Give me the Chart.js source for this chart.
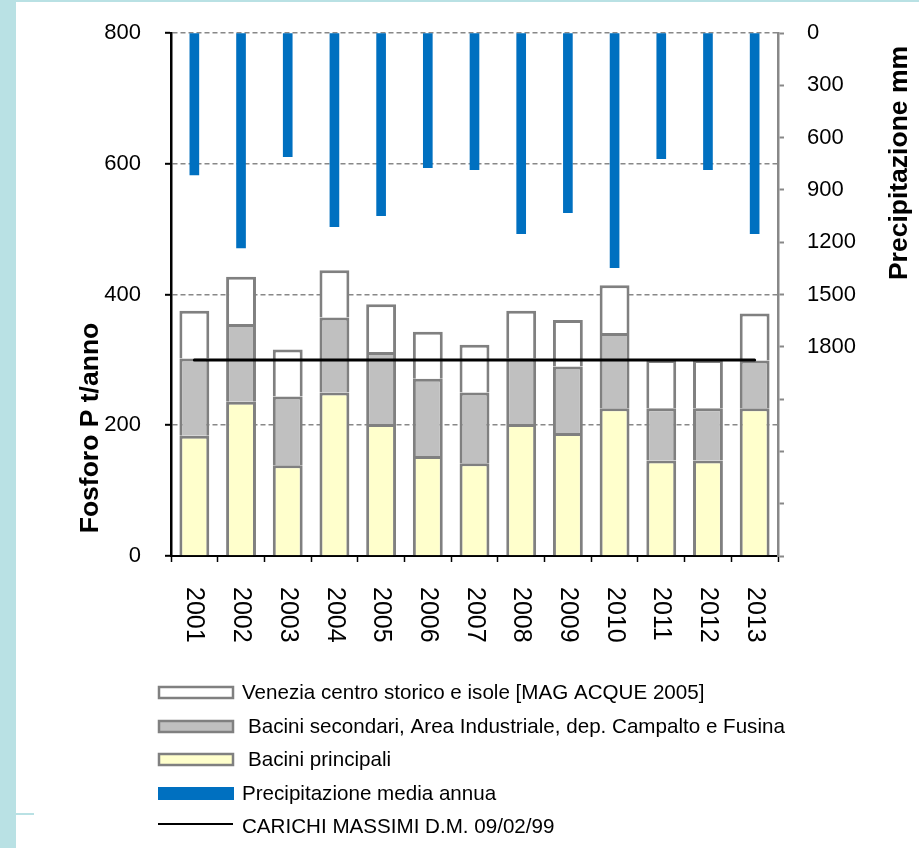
<!DOCTYPE html>
<html>
<head>
<meta charset="utf-8">
<script src="https://cdn.jsdelivr.net/npm/chart.js@4.4.0/dist/chart.umd.min.js"></script>
<style>
  html, body { margin: 0; padding: 0; background: #fff; }
  #wrap { position: relative; width: 919px; height: 848px; overflow: hidden; background: #fff; }
  .band { position: absolute; background: #b9e1e4; }
  canvas { position: absolute; left: 0; top: 0; }
</style>
</head>
<body>
<div id="wrap">
  <div class="band" style="left:0;top:0;width:16px;height:848px"></div>
  <div class="band" style="left:0;top:0;width:919px;height:2px"></div>
  <div class="band" style="left:16px;top:813px;width:18px;height:2px"></div>
  <canvas id="c" width="919" height="848"></canvas>
</div>
<script>
// Anni
const years = ['2001', '2002', '2003', '2004', '2005', '2006', '2007',
               '2008', '2009', '2010', '2011', '2012', '2013'];

// Carichi di fosforo (t/anno) per fonte
const baciniPrincipali = [184, 236, 139, 250, 202, 153, 142, 202, 188, 226, 146, 146, 226];
const baciniSecondari  = [118, 119, 105, 115, 110, 118, 108, 100, 102, 115,  80,  80,  73];
const veneziaCentro    = [ 73,  72,  72,  72,  73,  72,  73,  73,  71,  73,  74,  74,  72];

// Precipitazione media annua (mm)
const precipitazione = [814, 1233, 709, 1111, 1048, 772, 784, 1151, 1031, 1346, 721, 784, 1151];

// Carichi massimi ammissibili D.M. 09/02/99 (t/anno)
const carichiMassimi = [300, 300, 300, 300, 300, 300, 300, 300, 300, 300, 300, 300, 300];

// Etichette degli assi
const leftTickValues = [0, 200, 400, 600, 800];
const rightTickLabels = ['0', '300', '600', '900', '1200', '1500', '1800'];

const FONT = '"Liberation Sans", Arial, Helvetica, sans-serif';
Chart.defaults.font.family = FONT;
Chart.defaults.color = '#000';

const datasets = [
  { type: 'bar', label: 'Bacini principali', data: baciniPrincipali,
    backgroundColor: '#ffffcc', borderColor: '#808080', borderWidth: 3,
    stack: 'carichi', yAxisID: 'y', grouped: false, order: 2,
    barPercentage: 0.64, categoryPercentage: 1 },
  { type: 'bar', label: 'Bacini secondari, Area Industriale, dep. Campalto e Fusina', data: baciniSecondari,
    backgroundColor: '#c0c0c0', borderColor: '#808080', borderWidth: 3,
    stack: 'carichi', yAxisID: 'y', grouped: false, order: 2,
    barPercentage: 0.64, categoryPercentage: 1 },
  { type: 'bar', label: 'Venezia centro storico e isole [MAG ACQUE 2005]', data: veneziaCentro,
    backgroundColor: '#ffffff', borderColor: '#808080', borderWidth: 3,
    stack: 'carichi', yAxisID: 'y', grouped: false, order: 2,
    barPercentage: 0.64, categoryPercentage: 1 },
  { type: 'bar', label: 'Precipitazione media annua', data: precipitazione,
    backgroundColor: '#0070c0', borderWidth: 0,
    stack: 'pioggia', yAxisID: 'y2', grouped: false, order: 3,
    barPercentage: 1, categoryPercentage: 1, maxBarThickness: 9 },
  { type: 'line', label: 'CARICHI MASSIMI D.M. 09/02/99', data: carichiMassimi,
    borderColor: '#000', borderWidth: 3, pointRadius: 0, borderCapStyle: 'round',
    stack: 'limite', yAxisID: 'y', order: 0, tension: 0 }
];

// Ordine delle voci in legenda
const legendOrder = [2, 1, 0, 3, 4];

const decor = {
  id: 'decor',
  afterDraw(chart) {
    const { ctx } = chart;
    const x = chart.scales.x;
    ctx.save();
    ctx.fillStyle = '#000';

    // Anni sull'asse orizzontale, ruotati in senso orario
    ctx.font = '25px ' + FONT;
    ctx.textAlign = 'left';
    ctx.textBaseline = 'middle';
    years.forEach((yr, i) => {
      ctx.save();
      ctx.translate(x.getPixelForValue(i), 587);
      ctx.rotate(Math.PI / 2);
      ctx.fillText(yr, 0, 0);
      ctx.restore();
    });

    // Titoli degli assi
    ctx.font = 'bold 26.5px ' + FONT;
    ctx.textAlign = 'center';
    ctx.save();
    ctx.translate(91, 428);
    ctx.rotate(-Math.PI / 2);
    ctx.fillText('Fosforo P t/anno', 0, 0);
    ctx.restore();
    ctx.save();
    ctx.translate(900, 163);
    ctx.rotate(-Math.PI / 2);
    ctx.fillText('Precipitazione mm', 0, 0);
    ctx.restore();

    // Legenda
    const rowY = [693, 727, 760, 794, 827];
    const textX = [242, 248, 248, 242, 242];
    ctx.font = '20.6px ' + FONT;
    ctx.textAlign = 'left';
    ctx.textBaseline = 'middle';
    legendOrder.forEach((di, r) => {
      const ds = chart.data.datasets[di];
      const y = rowY[r];
      if (ds.type === 'line') {
        ctx.strokeStyle = ds.borderColor;
        ctx.lineWidth = 2;
        ctx.beginPath();
        ctx.moveTo(158, y - 3);
        ctx.lineTo(233, y - 3);
        ctx.stroke();
      } else if (ds.borderWidth) {
        ctx.fillStyle = ds.backgroundColor;
        ctx.fillRect(159, y - 6, 74, 11);
        ctx.strokeStyle = ds.borderColor;
        ctx.lineWidth = 2.5;
        ctx.strokeRect(159, y - 6, 74, 11);
      } else {
        ctx.fillStyle = ds.backgroundColor;
        ctx.fillRect(158, y - 7, 76, 13);
      }
      ctx.fillStyle = '#000';
      ctx.fillText(ds.label, textX[r], y);
    });
    ctx.restore();
  }
};

// Gli assi verticali non riservano spazio extra sopra/sotto per le etichette
const fitVertical = (w) => (s) => {
  s.width = w;
  s.paddingTop = 0;
  s.paddingBottom = 0;
};

new Chart(document.getElementById('c'), {
  data: { labels: years, datasets },
  options: {
    responsive: false,
    animation: false,
    layout: { padding: { top: 33, left: 0, right: 0, bottom: 0 } },
    plugins: { legend: { display: false }, tooltip: { enabled: false } },
    scales: {
      x: {
        type: 'category',
        offset: true,
        afterFit: (s) => { s.height = 292; s.paddingLeft = 0; s.paddingRight = 0; },
        grid: { offset: true, drawOnChartArea: false, tickLength: 6, tickColor: '#000', tickWidth: 1.5 },
        border: { color: '#000', width: 2 },
        ticks: { display: false }
      },
      y: {
        position: 'left',
        stacked: true,
        min: 0, max: 800,
        afterFit: fitVertical(171),
        afterBuildTicks: (s) => { s.ticks = leftTickValues.map(v => ({ value: v })); },
        grid: {
          color: (c) => (c.tick && c.tick.value === 0) ? 'rgba(0,0,0,0)' : '#888888',
          lineWidth: 1.6,
          tickLength: 6, tickColor: '#000', tickWidth: 2
        },
        border: { color: '#000', width: 2.5, dash: [5, 3] },
        ticks: { font: { size: 22 }, padding: 24, color: '#000' }
      },
      y2: {
        position: 'right',
        reverse: true,
        min: 0, max: 3000,
        afterFit: fitVertical(141),
        grid: { drawOnChartArea: false, tickLength: 6, tickColor: '#888888', tickWidth: 2 },
        border: { color: '#888888', width: 2.5 },
        ticks: {
          stepSize: 300,
          font: { size: 22 }, padding: 23, color: '#000',
          callback: (v) => (rightTickLabels.includes(String(v)) ? String(v) : '')
        }
      }
    }
  },
  plugins: [decor]
});
</script>
</body>
</html>
